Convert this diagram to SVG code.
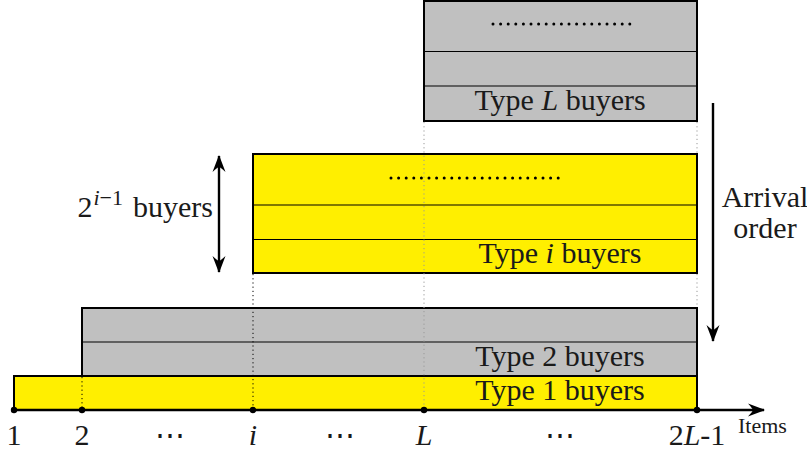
<svg xmlns="http://www.w3.org/2000/svg" width="807" height="452" viewBox="0 0 807 452">
<style>
.box{stroke:#000;stroke-width:2}
.y{fill:#FFEF00}.g{fill:#C0C0C0}
.div{stroke:#000;stroke-width:1.2;fill:none}
.vd{stroke:#000;stroke-width:1;stroke-dasharray:1.2 3;fill:none}
.vg{stroke:#999;stroke-width:1;stroke-dasharray:1.2 3;fill:none}
.dots{stroke:#000;stroke-width:3;stroke-linecap:round;stroke-dasharray:0 7.6;fill:none}
text{font-family:"Liberation Serif","Times New Roman",Times,"DejaVu Serif",serif;fill:#1a1a1a}
.t{font-size:30px}
.s{font-size:22px}
.ar{stroke:#000;stroke-width:2.4;fill:none}
</style>
<defs>
<marker id="ah" markerWidth="20" markerHeight="16" viewBox="-18 -8 20 16" refX="0" refY="0" orient="auto-start-reverse" markerUnits="userSpaceOnUse">
<path d="M1,0 L-16,-6.5 Q-11,-1 -11,0 Q-11,1 -16,6.5 Z" fill="#000"/>
</marker>
</defs>
<g id="typeL">
<rect class="box g" x="424" y="1" width="273" height="120"/>
<line class="div" x1="424" y1="51.5" x2="697" y2="51.5"/>
<line class="div" x1="424" y1="86" x2="697" y2="86"/>
<line class="dots" x1="493" y1="24" x2="630" y2="24"/>
<text class="t" x="560" y="110" text-anchor="middle">Type <tspan font-style="italic">L</tspan> buyers</text>
</g>
<g id="typei">
<rect class="box y" x="253" y="154" width="444" height="119"/>
<line class="div" x1="253" y1="205" x2="697" y2="205"/>
<line class="div" x1="253" y1="239.5" x2="697" y2="239.5"/>
<line class="dots" x1="391" y1="178" x2="561" y2="178"/>
<text class="t" x="560" y="263" text-anchor="middle">Type <tspan font-style="italic">i</tspan> buyers</text>
</g>
<g id="type2">
<rect class="box g" x="82" y="308" width="615" height="68"/>
<line class="div" x1="82" y1="342" x2="697" y2="342"/>
<text class="t" x="560" y="366" text-anchor="middle">Type 2 buyers</text>
</g>
<g id="type1">
<rect class="box y" x="14" y="376" width="683" height="34"/>
<text class="t" x="560" y="400" text-anchor="middle">Type 1 buyers</text>
</g>
<g id="guides">
<line class="vd" x1="82" y1="377" x2="82" y2="409"/>
<line class="vd" x1="253" y1="274" x2="253" y2="409"/>
<line class="vg" x1="424" y1="122" x2="424" y2="409"/>
<line class="vg" x1="697" y1="122" x2="697" y2="153"/>
<line class="vg" x1="697" y1="274" x2="697" y2="307"/>
</g>
<g id="connectors">
<line class="ar" x1="14" y1="410" x2="764" y2="410" marker-end="url(#ah)"/>
<line class="ar" x1="219" y1="156" x2="219" y2="272" marker-start="url(#ah)" marker-end="url(#ah)"/>
<line class="ar" x1="713" y1="103" x2="713" y2="341" marker-end="url(#ah)"/>
</g>
<g id="ticks">
<circle cx="14" cy="410" r="3.2"/>
<circle cx="82" cy="410" r="3.2"/>
<circle cx="253" cy="410" r="3.2"/>
<circle cx="424" cy="410" r="3.2"/>
<circle cx="697" cy="410" r="3.2"/>
</g>
<g id="labels">
<text class="t" x="14" y="445" text-anchor="middle">1</text>
<text class="t" x="82" y="445" text-anchor="middle">2</text>
<text class="t" x="170" y="445" text-anchor="middle">⋯</text>
<text class="t" x="253" y="445" text-anchor="middle" font-style="italic">i</text>
<text class="t" x="340" y="445" text-anchor="middle">⋯</text>
<text class="t" x="424" y="445" text-anchor="middle" font-style="italic">L</text>
<text class="t" x="560" y="445" text-anchor="middle">⋯</text>
<text class="t" x="697" y="445" text-anchor="middle">2<tspan font-style="italic">L</tspan>-1</text>
<text class="s" x="738" y="433">Items</text>
<text class="t" x="213" y="217" text-anchor="end">2<tspan font-size="22" dy="-12" dx="1"><tspan font-style="italic">i</tspan>−1</tspan><tspan dy="12" dx="10">buyers</tspan></text>
<text class="t" x="765" y="207" text-anchor="middle">Arrival</text>
<text class="t" x="765" y="238" text-anchor="middle">order</text>
</g>
</svg>
